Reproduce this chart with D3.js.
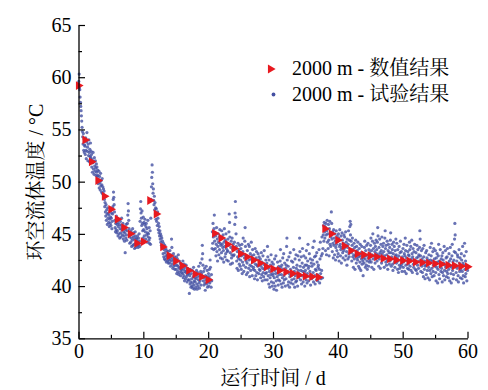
<!DOCTYPE html>
<html>
<head>
<meta charset="utf-8">
<script src="https://cdn.jsdelivr.net/npm/d3@7"></script>
<style>
  body { margin: 0; background: #fff; }
  svg text { font-family: "Liberation Serif", "Noto Serif CJK SC", serif; }
</style>
</head>
<body>
<div id="chart"></div>
<script>
// numerical result, one value per day (day 0..60)
const simDays = d3.range(0, 61);
const simTemp = [
    59.2, 54.0, 51.9, 50.1, 48.6, 47.35, 46.4, 45.6, 45.0, 44.1,
    44.25, 48.2, 46.9, 43.75, 42.9, 42.4, 41.95, 41.5, 41.15, 40.9,
    40.6, 45.05, 44.6, 44.0, 43.6, 43.1, 42.8, 42.5, 42.2, 41.85,
    41.65, 41.5, 41.35, 41.2, 41.05, 40.95, 40.9, 40.85, 45.5, 45.0,
    44.4, 43.85, 43.4, 43.1, 43.0, 42.9, 42.8, 42.65, 42.6, 42.5,
    42.45, 42.4, 42.3, 42.25, 42.2, 42.15, 42.1, 42.0, 41.95, 41.9,
    41.85
];

// field test readings, sampled every 0.05 d (one row = one day)
const expStep = 0.05;
const expTemp = [
    59.3, 59.6, 60.3, 59.0, 58.8, 58.1, 57.6, 57.2, 56.8, 56.3, 55.8, 55.2, 54.8, 54.3, 53.6, 54.6, 53.0, 54.1, 52.8, 53.5,
    53.4, 52.6, 54.2, 53.0, 52.2, 53.8, 54.7, 52.9, 53.3, 52.0, 53.6, 52.5, 54.0, 52.8, 51.9, 53.1, 52.4, 53.7, 52.3, 52.9,
    52.6, 51.4, 52.1, 50.9, 51.8, 52.8, 51.2, 51.9, 50.7, 52.3, 51.5, 51.0, 52.0, 51.3, 50.6, 51.7, 50.9, 51.4, 50.5, 51.1,
    50.6, 49.8, 50.2, 51.0, 49.4, 50.5, 49.9, 49.2, 50.8, 49.6, 50.1, 49.0, 49.7, 50.3, 48.9, 49.5, 48.8, 49.3, 48.6, 49.1,
    48.3, 47.6, 48.0, 47.1, 46.7, 47.8, 46.3, 47.3, 46.9, 45.9, 47.5, 46.5, 47.0, 46.1, 46.8, 45.7, 46.4, 47.2, 46.0, 46.6,
    45.8, 46.5, 47.0, 45.5, 46.2, 46.9, 47.6, 48.3, 49.0, 48.5, 47.8, 47.1, 46.3, 45.6, 45.2, 46.0, 45.4, 46.7, 45.1, 45.9,
    45.3, 46.1, 44.8, 45.7, 46.4, 45.0, 45.9, 44.6, 45.5, 46.2, 45.1, 44.7, 45.8, 46.5, 45.4, 44.9, 45.6, 46.0, 44.5, 45.2,
    44.8, 45.6, 44.3, 45.1, 43.2, 45.4, 44.6, 45.9, 44.9, 44.4, 45.3, 46.0, 46.8, 47.9, 47.2, 46.3, 45.5, 44.7, 44.1, 45.0,
    44.9, 44.2, 45.3, 44.6, 43.8, 45.0, 44.4, 45.5, 43.9, 44.7, 45.1, 44.0, 44.5, 43.6, 44.8, 45.2, 44.1, 43.7, 44.6, 44.3,
    44.5, 43.9, 44.8, 44.2, 43.7, 44.6, 44.0, 45.0, 44.3, 43.8, 46.2, 47.4, 48.1, 47.0, 46.5, 45.8, 47.2, 46.0, 45.3, 44.6,
    46.6, 45.4, 46.1, 44.8, 45.9, 46.4, 45.2, 44.5, 45.7, 46.0, 44.9, 45.5, 44.2, 45.1, 46.3, 44.7, 45.0, 44.4, 45.6, 44.1,
    44.6, 45.3, 44.0, 46.5, 48.3, 49.5, 50.4, 51.6, 50.9, 49.8, 48.9, 49.3, 48.2, 47.8, 48.6, 47.3, 48.0, 46.9, 47.5, 46.4,
    47.4, 46.2, 46.9, 45.8, 47.1, 46.5, 45.4, 46.0, 45.1, 45.7, 44.8, 45.3, 44.5, 45.0, 44.2, 44.8, 43.9, 44.6, 43.7, 44.3,
    43.8, 43.1, 44.1, 42.8, 43.5, 42.6, 43.9, 43.2, 42.5, 43.6, 42.9, 42.3, 43.4, 42.7, 43.0, 42.4, 43.3, 42.2, 42.8, 42.5,
    42.9, 42.2, 43.4, 42.6, 41.9, 43.0, 42.4, 44.5, 43.7, 42.1, 42.7, 41.7, 42.5, 43.1, 41.9, 42.3, 42.8, 41.6, 42.0, 42.4,
    42.3, 41.6, 42.8, 41.2, 42.0, 42.6, 41.4, 41.9, 43.0, 41.1, 41.7, 42.4, 41.3, 41.8, 42.2, 41.0, 41.5, 42.1, 41.6, 41.3,
    41.9, 41.2, 42.4, 40.8, 41.6, 41.0, 42.1, 40.5, 41.4, 41.8, 40.7, 41.3, 42.0, 40.9, 41.5, 40.4, 41.1, 41.7, 40.6, 41.2,
    41.3, 40.6, 39.3, 41.0, 40.2, 41.6, 40.4, 39.9, 41.2, 40.7, 40.0, 41.5, 40.3, 39.8, 40.9, 41.8, 40.1, 40.5, 39.7, 40.8,
    40.4, 41.1, 39.9, 40.7, 41.5, 40.2, 39.7, 40.9, 41.3, 40.0, 40.6, 41.9, 40.3, 39.8, 41.0, 40.5, 42.2, 41.4, 40.1, 40.8,
    41.2, 42.6, 43.9, 43.1, 42.0, 40.5, 41.4, 40.1, 40.8, 41.7, 40.3, 39.6, 41.0, 40.6, 41.9, 40.2, 40.9, 41.5, 39.9, 40.7,
    40.4, 41.2, 40.0, 40.9, 41.6, 40.3, 42.5, 41.8, 40.6, 39.9, 41.1, 40.5, 43.6, 45.2, 44.1, 46.0, 44.7, 43.5, 45.5, 46.8,
    44.3, 45.1, 43.6, 44.8, 42.9, 44.0, 45.6, 43.3, 44.5, 42.4, 43.8, 45.0, 44.2, 43.0, 44.7, 43.5, 45.4, 44.1, 42.7, 43.9,
    44.6, 43.2, 45.3, 44.0, 42.6, 43.7, 44.9, 43.4, 42.3, 44.2, 45.5, 43.8, 42.8, 44.4, 43.1, 45.0, 43.6, 42.5, 44.1, 43.3,
    43.4, 44.5, 42.4, 43.9, 45.2, 46.9, 46.1, 44.7, 43.2, 42.1, 43.7, 44.3, 42.7, 43.0, 44.6, 42.2, 43.5, 44.0, 42.9, 43.6,
    43.0, 44.2, 45.9, 47.0, 48.1, 46.6, 45.0, 43.8, 42.4, 41.7, 43.3, 42.8, 44.1, 41.5, 42.6, 43.5, 42.1, 43.9, 42.9, 41.9,
    42.5, 43.6, 41.6, 42.9, 44.0, 41.2, 42.3, 43.3, 44.6, 42.0, 41.4, 43.0, 42.7, 44.3, 45.6, 43.8, 41.8, 42.4, 41.1, 42.8,
    42.2, 43.4, 41.3, 42.8, 44.0, 41.7, 42.5, 43.8, 40.9, 42.0, 43.1, 41.5, 42.6, 44.2, 41.9, 42.9, 41.0, 43.5, 42.3, 41.6,
    41.8, 43.0, 42.4, 40.7, 41.5, 43.6, 42.1, 41.0, 42.7, 43.3, 41.3, 42.0, 40.6, 41.9, 43.1, 42.5, 41.2, 42.8, 41.6, 42.3,
    41.5, 42.6, 40.8, 41.9, 43.2, 41.1, 42.3, 40.5, 41.7, 42.9, 41.3, 40.9, 42.1, 43.4, 41.6, 40.6, 42.0, 41.2, 42.5, 41.8,
    41.3, 42.2, 40.6, 43.8, 42.8, 41.0, 41.7, 40.2, 42.5, 41.4, 39.9, 40.8, 42.0, 41.1, 43.0, 40.4, 41.6, 42.3, 40.0, 41.2,
    41.0, 42.1, 40.3, 39.7, 40.8, 42.6, 41.5, 40.0, 41.2, 42.9, 40.5, 39.6, 41.7, 40.9, 42.3, 41.3, 40.1, 40.6, 41.9, 41.1,
    41.4, 40.5, 42.4, 43.5, 41.8, 40.2, 41.1, 42.0, 39.9, 40.8, 42.7, 41.6, 40.3, 43.1, 41.0, 40.6, 42.2, 41.3, 40.0, 41.7,
    40.7, 42.0, 43.8, 44.6, 42.5, 41.4, 40.1, 41.9, 40.4, 42.8, 41.2, 39.9, 40.9, 43.2, 41.6, 40.3, 41.0, 42.4, 40.6, 41.3,
    41.1, 42.3, 40.2, 41.8, 43.5, 40.7, 41.4, 39.9, 42.6, 41.0, 40.4, 43.0, 41.7, 40.5, 42.0, 41.2, 40.0, 42.9, 41.5, 40.8,
    41.2, 42.5, 44.6, 43.3, 41.9, 40.6, 41.5, 42.8, 40.2, 41.0, 42.2, 43.6, 41.4, 40.4, 41.8, 42.9, 40.8, 41.3, 40.0, 42.0,
    41.5, 42.7, 40.6, 43.4, 42.0, 40.3, 41.2, 42.4, 44.0, 41.7, 40.5, 41.9, 43.1, 40.9, 41.4, 42.6, 40.1, 41.1, 42.2, 40.7,
    41.9, 40.8, 42.5, 43.7, 41.3, 40.4, 42.1, 44.3, 42.8, 41.0, 40.2, 41.6, 42.9, 41.5, 40.6, 43.2, 42.3, 41.1, 40.5, 41.8,
    42.0, 40.9, 43.5, 41.6, 40.3, 42.6, 44.2, 41.2, 40.7, 42.9, 41.5, 44.7, 43.1, 40.8, 43.6, 44.9, 45.8, 44.3, 46.1, 45.2,
    44.6, 45.7, 43.4, 46.0, 44.9, 43.0, 45.3, 46.3, 44.2, 45.0, 43.6, 45.9, 44.4, 42.9, 45.5, 46.2, 44.0, 45.1, 43.8, 44.7,
    47.1, 46.0, 44.5, 43.3, 45.2, 44.1, 42.7, 45.4, 43.9, 44.6, 43.0, 45.0, 44.3, 42.5, 43.7, 45.3, 44.0, 43.4, 44.8, 42.8,
    44.3, 43.1, 45.0, 44.6, 42.4, 43.8, 45.4, 44.0, 42.9, 43.5, 44.8, 42.2, 43.7, 45.1, 44.4, 43.2, 42.7, 44.1, 43.4, 44.9,
    43.6, 44.7, 42.5, 43.9, 45.2, 42.9, 44.2, 43.3, 42.0, 44.5, 43.7, 42.6, 44.0, 45.3, 43.1, 42.8, 44.4, 45.7, 46.2, 44.9,
    45.9, 44.3, 43.2, 42.4, 43.9, 44.6, 42.8, 43.5, 41.8, 43.0, 44.1, 42.6, 43.7, 41.6, 42.9, 44.4, 43.3, 42.2, 43.8, 42.7,
    43.4, 42.5, 44.2, 43.0, 41.9, 42.8, 43.6, 41.7, 42.3, 44.0, 42.9, 41.5, 43.2, 42.6, 43.8, 42.1, 43.0, 42.4, 41.0, 42.7,
    43.1, 42.2, 43.7, 44.3, 42.6, 41.8, 43.4, 42.9, 42.0, 43.9, 42.4, 41.6, 43.0, 44.1, 42.7, 41.9, 43.5, 42.3, 43.2, 42.5,
    42.8, 43.9, 44.6, 42.3, 43.4, 41.8, 43.0, 44.3, 45.0, 42.6, 43.6, 41.6, 42.9, 44.1, 43.3, 42.2, 43.8, 42.7, 44.4, 43.1,
    43.5, 42.4, 44.2, 45.6, 44.8, 43.0, 41.9, 43.7, 42.6, 44.5, 43.2, 41.7, 42.9, 44.0, 43.4, 42.2, 44.7, 43.1, 42.5, 43.8,
    42.7, 44.1, 43.3, 41.8, 42.9, 44.6, 45.3, 43.6, 42.3, 43.9, 42.0, 43.0, 44.3, 42.5, 41.6, 43.4, 44.0, 42.8, 43.2, 42.1,
    43.7, 42.4, 44.4, 45.1, 43.2, 41.9, 42.8, 44.0, 43.5, 42.1, 41.5, 43.1, 44.2, 42.6, 43.8, 42.3, 41.8, 43.4, 42.9, 44.5,
    43.0, 42.2, 44.1, 42.7, 41.6, 43.5, 42.4, 41.3, 42.9, 43.8, 42.0, 41.7, 43.2, 44.3, 42.5, 41.9, 43.3, 42.1, 41.4, 42.8,
    42.6, 43.6, 41.8, 42.3, 44.0, 43.1, 41.4, 42.9, 44.6, 43.4, 42.0, 41.2, 42.7, 43.9, 42.4, 41.7, 43.3, 42.1, 43.0, 41.6,
    42.9, 44.2, 43.5, 41.9, 42.4, 43.8, 41.5, 42.6, 44.4, 43.1, 41.3, 42.8, 43.6, 42.1, 41.8, 43.3, 42.5, 44.0, 42.2, 41.6,
    42.3, 43.2, 41.5, 42.7, 43.9, 41.2, 42.0, 43.5, 42.8, 41.7, 43.0, 42.4, 43.7, 45.3, 44.5, 42.9, 41.4, 42.2, 43.4, 41.9,
    42.6, 41.3, 43.6, 42.1, 40.9, 42.8, 43.9, 41.6, 42.4, 40.7, 41.9, 43.2, 42.0, 41.1, 43.4, 42.7, 41.5, 42.3, 40.8, 42.5,
    41.8, 43.0, 42.2, 40.6, 41.5, 43.7, 42.5, 41.2, 42.9, 44.1, 41.7, 40.9, 42.4, 43.3, 41.4, 42.0, 43.6, 41.0, 42.6, 41.9,
    42.1, 43.4, 41.3, 40.5, 42.7, 41.8, 43.1, 42.3, 40.3, 41.6, 42.9, 44.0, 41.1, 42.4, 40.7, 41.9, 43.5, 42.0, 41.4, 42.6,
    41.7, 42.9, 40.4, 41.3, 43.2, 42.5, 41.0, 42.2, 43.8, 41.5, 40.6, 42.0, 43.4, 41.8, 42.7, 40.9, 41.4, 42.8, 43.6, 41.2,
    42.2, 40.8, 41.6, 43.1, 42.4, 40.5, 41.9, 43.7, 42.6, 41.2, 40.3, 41.8, 42.9, 44.0, 41.5, 42.3, 40.7, 41.1, 42.5, 43.3,
    44.5, 46.0, 44.9, 43.2, 42.0, 41.3, 40.6, 42.4, 41.7, 43.0, 42.8, 41.0, 40.4, 41.9, 43.5, 42.2, 41.4, 42.7, 40.8, 41.6,
    41.8, 43.1, 42.5, 40.7, 41.4, 43.8, 42.2, 41.0, 40.3, 42.0, 42.9, 44.1, 41.6, 40.9, 42.4, 41.2, 43.3, 41.9, 40.5, 41.7,
    41.5
];

const xTicks = [0, 10, 20, 30, 40, 50, 60];
const xMinor = [5, 15, 25, 35, 45, 55];
const yTicks = [35, 40, 45, 50, 55, 60, 65];
const yMinor = [37.5, 42.5, 47.5, 52.5, 57.5, 62.5];

const legendLabels = ['2000 m - 数值结果', '2000 m - 试验结果'];
const xTitle = '运行时间 / d';
const yTitle = '环空流体温度 / °C';

const simColor = '#e8191f';
const expColor = '#4450a2';
const serif = '"Liberation Serif", "Noto Serif CJK SC", serif';

let width = 488,
    height = 390,
    plot = { left: 78.5, right: 467.5, top: 25, bottom: 338.3 };

const svg = d3.select('#chart').append('svg')
    .attr('width', width)
    .attr('height', height);

const x = d3.scaleLinear().domain([0, 60]).range([plot.left, plot.right]);
const y = d3.scaleLinear().domain([35, 65]).range([plot.bottom, plot.top]);

// test data: small dots
const expData = expTemp.map(function(v, i) {
    return { t: i * expStep, v: v };
});

svg.append('g')
    .attr('class', 'exp')
    .selectAll('circle')
    .data(expData)
    .enter().append('circle')
    .attr('cx', function(d) { return x(d.t); })
    .attr('cy', function(d) { return y(d.v); })
    .attr('r', 1.6)
    .attr('fill', expColor)
    .attr('fill-opacity', 0.8);

// numerical data: right pointing triangles
const tri = d3.symbol().type(d3.symbolTriangle).size(34);

svg.append('g')
    .attr('class', 'sim')
    .selectAll('path')
    .data(simDays)
    .enter().append('path')
    .attr('d', tri)
    .attr('transform', function(d, i) {
        return 'translate(' + x(d) + ',' + y(simTemp[i]) + ') rotate(90)';
    })
    .attr('fill', simColor);

// axes
function styleAxis(g) {
    g.attr('font-family', null);
    g.selectAll('path.domain').attr('stroke', '#000').attr('stroke-width', 1.3);
    g.selectAll('.tick line').attr('stroke', '#000').attr('stroke-width', 1.2);
    g.selectAll('.tick text')
        .attr('fill', '#000')
        .style('font-size', '20px')
        .style('font-family', serif);
}

const xAxis = d3.axisBottom(x)
    .tickValues(xTicks)
    .tickSize(-6.5)
    .tickSizeOuter(0)
    .tickPadding(6)
    .tickFormat(d3.format('d'));

const yAxis = d3.axisLeft(y)
    .tickValues(yTicks)
    .tickSize(-6.5)
    .tickSizeOuter(0)
    .tickPadding(7)
    .tickFormat(d3.format('d'));

svg.append('g')
    .attr('transform', 'translate(0,' + plot.bottom + ')')
    .call(d3.axisBottom(x).tickValues(xMinor).tickSize(-3.5).tickFormat(''))
    .call(function(g) { g.select('.domain').remove(); })
    .call(styleAxis);

svg.append('g')
    .attr('transform', 'translate(' + plot.left + ',0)')
    .call(d3.axisLeft(y).tickValues(yMinor).tickSize(-3.5).tickFormat(''))
    .call(function(g) { g.select('.domain').remove(); })
    .call(styleAxis);

svg.append('g')
    .attr('class', 'x axis')
    .attr('transform', 'translate(0,' + plot.bottom + ')')
    .call(xAxis)
    .call(styleAxis);

svg.append('g')
    .attr('class', 'y axis')
    .attr('transform', 'translate(' + plot.left + ',0)')
    .call(yAxis)
    .call(styleAxis);

// axis titles
svg.append('text')
    .attr('x', (plot.left + plot.right) / 2)
    .attr('y', 385)
    .attr('text-anchor', 'middle')
    .style('font-size', '20px')
    .text(xTitle);

svg.append('text')
    .attr('transform', 'translate(43,' + 182 + ') rotate(-90)')
    .attr('text-anchor', 'middle')
    .style('font-size', '20px')
    .text(yTitle);

// legend
const legend = svg.append('g').attr('class', 'legend');

legend.append('path')
    .attr('d', tri)
    .attr('transform', 'translate(270.5,69) rotate(90)')
    .attr('fill', simColor);

legend.append('circle')
    .attr('cx', 273.5)
    .attr('cy', 94.5)
    .attr('r', 1.9)
    .attr('fill', expColor);

legend.selectAll('text')
    .data(legendLabels)
    .enter().append('text')
    .attr('x', 292)
    .attr('y', function(d, i) { return 75 + i * 25.5; })
    .style('font-size', '20px')
    .text(function(d) { return d; });
</script>
</body>
</html>
